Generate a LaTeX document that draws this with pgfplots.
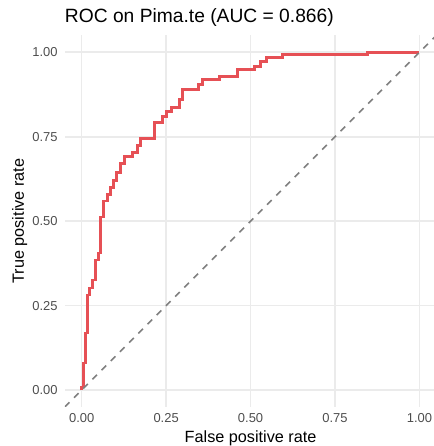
\documentclass[border=0pt]{standalone}
\usepackage{pgfplots}
\pgfplotsset{compat=1.18}
\usepackage{fontspec}
\setmainfont{Liberation Sans}

\definecolor{rocred}{RGB}{230,80,85}
\definecolor{gridgrey}{RGB}{235,235,235}
\definecolor{ticktext}{RGB}{77,77,77}
\definecolor{refgrey}{RGB}{127,127,127}

\begin{document}
\begin{tikzpicture}
\useasboundingbox (-64.8bp,-39.1bp) rectangle (369.2bp,406.9bp);
\begin{axis}[
  scale only axis,
  width=369.2bp,
  height=371.5bp,
  xmin=-0.05, xmax=1.043,
  ymin=-0.05, ymax=1.05,
  xtick={0,0.25,0.5,0.75,1},
  ytick={0,0.25,0.5,0.75,1},
  /pgf/number format/.cd, fixed, fixed zerofill, precision=2, assume math mode=true,
  /pgfplots/.cd,
  axis line style={draw=none},
  major tick length=0pt,
  tick style={draw=none},
  grid=major,
  grid style={gridgrey, line width=1.6bp},
  ticklabel style={font=\fontsize{13}{13}\selectfont, text=ticktext, inner sep=0pt},
  xticklabel style={anchor=north, yshift=-6bp},
  yticklabel style={anchor=east, xshift=-7bp},
  every axis title shift=0pt,
  title={ROC on Pima.te (AUC = 0.866)},
  title style={at={(axis description cs:0,1.0342)}, anchor=base west, inner sep=0pt, font=\fontsize{19.3}{19.3}\selectfont},
  xlabel={False positive rate},
  xlabel style={at={(axis description cs:0.5032,-0.0956)}, anchor=base, inner sep=0pt, font=\fontsize{16.3}{16.3}\selectfont},
  ylabel={True positive rate},
  ylabel style={at={(axis description cs:-0.111,0.5)}, anchor=base, rotate=0, inner sep=0pt, font=\fontsize{16.3}{16.3}\selectfont},
]

% ROC step curve (FPR, TPR)
\addplot[rocred, line width=2.9bp, line join=miter] coordinates {
  (0,0) (0,0.0089) (0.0059,0.0089) (0.0059,0.0800) (0.0118,0.0800) (0.0118,0.1688)
  (0.0178,0.1688) (0.0178,0.2814) (0.0237,0.2814) (0.0237,0.3021) (0.0326,0.3021)
  (0.0326,0.3258) (0.0415,0.3258) (0.0415,0.3851) (0.0504,0.3851) (0.0504,0.4058)
  (0.0563,0.4058) (0.0563,0.5124) (0.0652,0.5124) (0.0652,0.5598) (0.0770,0.5598)
  (0.0770,0.5776) (0.0859,0.5776) (0.0859,0.5983) (0.0948,0.5983) (0.0948,0.6191)
  (0.1037,0.6191) (0.1037,0.6428) (0.1155,0.6428) (0.1155,0.6694) (0.1274,0.6694)
  (0.1274,0.6902) (0.1511,0.6902) (0.1511,0.7020) (0.1659,0.7020) (0.1659,0.7227)
  (0.1748,0.7227) (0.1748,0.7435) (0.2162,0.7435) (0.2162,0.7909) (0.2399,0.7909)
  (0.2399,0.8086) (0.2518,0.8086) (0.2518,0.8235) (0.2666,0.8235) (0.2666,0.8353)
  (0.2903,0.8353) (0.2903,0.8590) (0.2992,0.8590) (0.2992,0.8886) (0.3466,0.8886)
  (0.3466,0.9034) (0.3584,0.9034) (0.3584,0.9182) (0.4088,0.9182) (0.4088,0.9271)
  (0.4621,0.9271) (0.4621,0.9479) (0.5124,0.9479) (0.5124,0.9568) (0.5302,0.9568)
  (0.5302,0.9716) (0.5480,0.9716) (0.5480,0.9834) (0.5954,0.9834) (0.5954,0.9923)
  (0.8472,0.9923) (0.8472,1) (1,1)
};

% chance line
\addplot[refgrey, line width=1.6bp, dash pattern=on 6.5bp off 6.5bp] coordinates {
  (-0.05,-0.05) (1.05,1.05)
};

\end{axis}
\end{tikzpicture}
\end{document}
